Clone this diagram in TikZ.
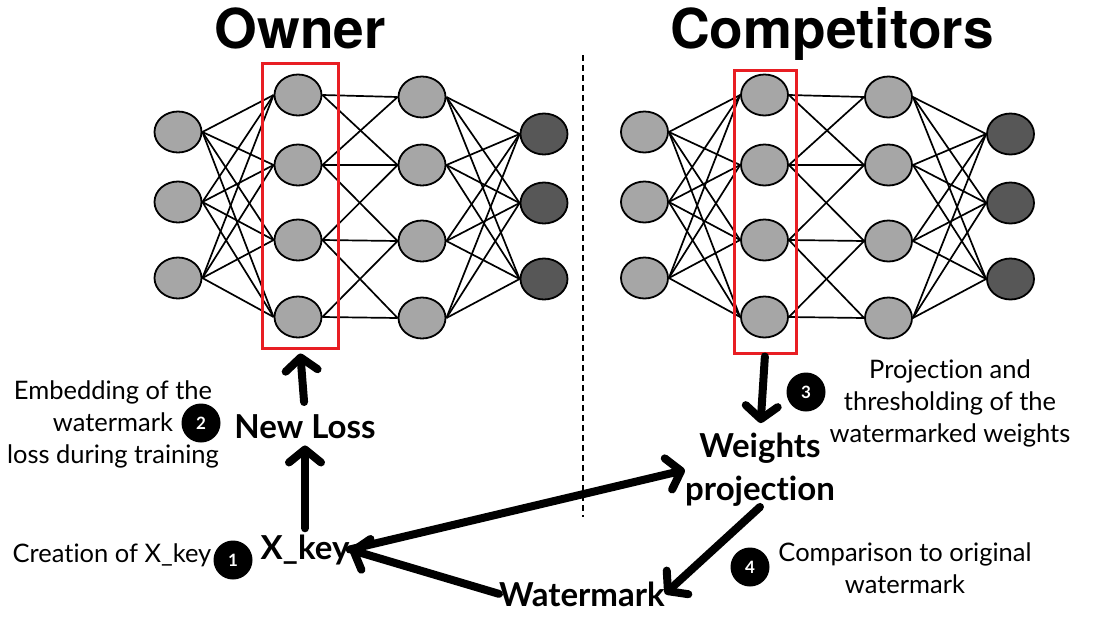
\documentclass[tikz,border=0pt]{standalone}
\usepackage{fontspec}
\setmainfont{Lato}[Ligatures={NoCommon,NoRare}]
\newfontfamily\headfont{TeX Gyre Heros}
\usetikzlibrary{arrows.meta,shapes.geometric}
\definecolor{boxred}{RGB}{232,30,35}

\tikzset{
  neuron/.style={draw, ellipse, line width=1.8pt, fill=gray!70, minimum width=47pt, minimum height=41pt, inner sep=0pt},
  outneuron/.style={neuron, fill=black!66},
  link/.style={line width=1.7pt},
  redbox/.style={draw=boxred, line width=3pt, inner sep=0pt},
  numdot/.style={circle, fill=black, text=white, font=\bfseries\fontsize{17}{17}\selectfont, minimum size=39pt, inner sep=0pt},
  bigarrow/.style={line width=8pt, line cap=round, -{Straight Barb[length=13pt, width=32pt, round]}},
  title/.style={font=\headfont\bfseries\fontsize{55}{55}\selectfont, inner sep=0pt},
  key/.style={font=\bfseries\fontsize{33}{43}\selectfont, align=center, inner sep=0pt},
  note/.style={font=\fontsize{25.5}{32}\selectfont, align=center, inner sep=0pt}
}

\begin{document}
\begin{tikzpicture}[x=1pt, y=-1pt]
\useasboundingbox (0,0) rectangle (1098,624);

% titles
\node[title, anchor=base] (owner) at (300,48) {Owner};
\node[title, anchor=base] (comp) at (832,48) {Competitors};

% the two networks
\foreach \side/\dx in {L/0, R/466.5} {
  \foreach \y [count=\i] in {132,202,278}
    \node[neuron] (\side-a-\i) at ({178+\dx},\y) {};
  \foreach \y [count=\i] in {95,165,240,317}
    \node[neuron] (\side-b-\i) at ({298+\dx},\y) {};
  \foreach \y [count=\i] in {97,165,241,318}
    \node[neuron] (\side-c-\i) at ({422+\dx},\y) {};
  \foreach \y [count=\i] in {134,203,279}
    \node[outneuron] (\side-d-\i) at ({544+\dx},\y) {};
  \foreach \i in {1,2,3}
    \foreach \j in {1,...,4} {
      \draw[link] (\side-a-\i.east) -- (\side-b-\j.west);
      \draw[link] (\side-c-\j.east) -- (\side-d-\i.west);
    }
  \foreach \i/\j in {1/1,1/2,2/1,2/2,2/3,3/2,3/3,3/4,4/3,4/4}
    \draw[link] (\side-b-\i.east) -- (\side-c-\j.west);
}

% watermarked layer
\node[redbox, minimum width=76pt, minimum height=285pt] (boxL) at (300,205.5) {};
\node[redbox, minimum width=62pt, minimum height=283pt] (boxR) at (765,211.5) {};

% separator
\draw[line width=1.5pt, dash pattern=on 6pt off 4pt] (583,55) -- (583,517);

% main labels
\node[key, anchor=base] (newloss) at (305,438) {New Loss};
\node[key, anchor=base] (xkey) at (305,559) {X\_key};
\node[key] (weights) at (760,470) {Weights\\projection};
\node[key, anchor=base] (wmark) at (582,606) {Watermark};

% steps
\node[numdot] (n1) at (233,560) {1};
\node[numdot] (n2) at (201,423) {2};
\node[numdot] (n3) at (806,392) {3};
\node[numdot] (n4) at (750,567) {4};
\node[note, anchor=base] (d1) at (112,562) {Creation of X\_key};
\node[note] (d2) at (113,424) {Embedding of the\\watermark\\loss during training};
\node[note] (d3) at (950,403) {Projection and\\thresholding of the\\watermarked weights};
\node[note] (d4) at (905,568) {Comparison to original\\watermark};

% flow
\draw[bigarrow, shorten <=6pt, shorten >=7pt] (xkey.north) -- (newloss.south);
\draw[bigarrow, shorten <=12pt, shorten >=4pt] (newloss.north) -- (boxL.south);
\draw[bigarrow, shorten <=2pt, shorten >=10pt] (boxR.south) -- (weights.north);
\draw[bigarrow] (xkey.east) -- (weights.west);
\draw[bigarrow] (weights.south) -- (wmark.east);
\draw[bigarrow] (wmark.west) -- (xkey.east);
\end{tikzpicture}
\end{document}
